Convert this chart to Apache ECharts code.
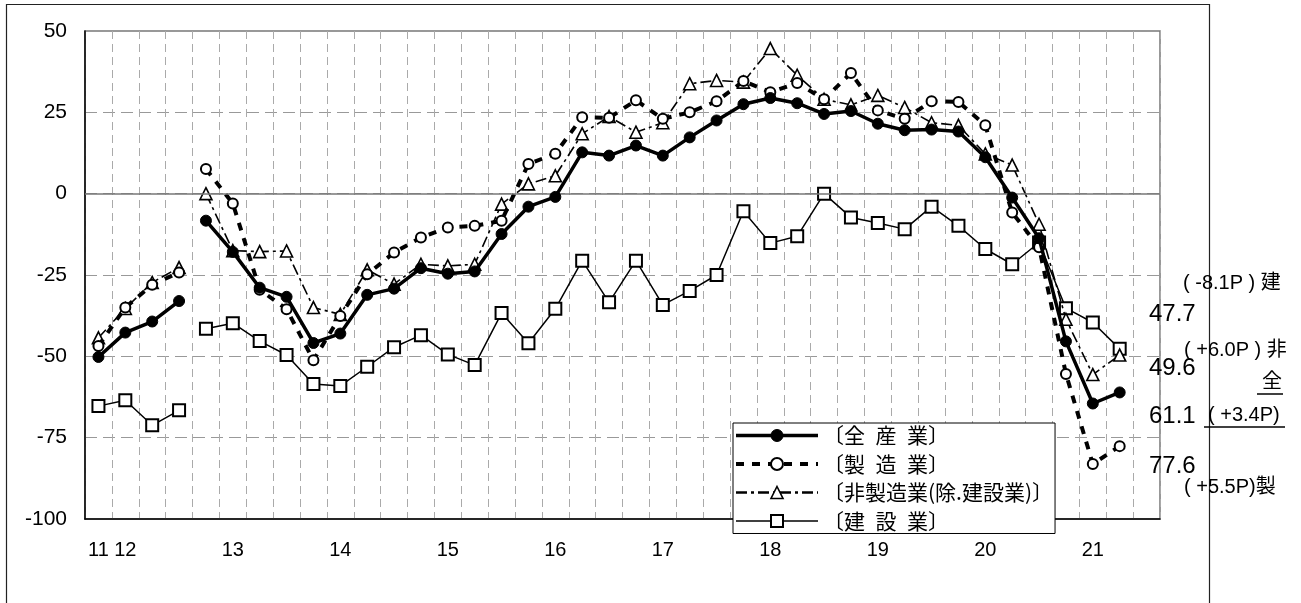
<!DOCTYPE html>
<html>
<head>
<meta charset="utf-8">
<script src="https://cdn.jsdelivr.net/npm/echarts@6/dist/echarts.min.js"></script>
<style>
  html, body { margin: 0; padding: 0; background: #fff; }
  #chart { width: 1301px; height: 603px; }
</style>
</head>
<body>
<div id="chart"></div>
<script>
// Quarterly categories (year label on the first quarter of each year)
const categories = [
  '11', '12', '', '', '',
  '13', '', '', '',
  '14', '', '', '',
  '15', '', '', '',
  '16', '', '', '',
  '17', '', '', '',
  '18', '', '', '',
  '19', '', '', '',
  '20', '', '', '',
  '21', '', ''
];

// Survey basis changes here: the lines are broken between index 3 and 4
const basisBreak = 4;

// DI values by quarter
const allIndustries = [
  -50.2, -42.7, -39.3, -33.0, -8.3, -17.9, -28.9, -31.7, -45.9, -43.0,
  -31.1, -29.2, -22.9, -24.6, -23.9, -12.4, -4.0, -1.0, 12.7, 11.7,
  14.8, 11.7, 17.3, 22.5, 27.5, 29.4, 27.8, 24.5, 25.4, 21.5,
  19.5, 19.7, 19.1, 11.2, -1.2, -13.7, -45.4, -64.5, -61.1
];
const manufacturing = [
  -46.8, -35.0, -28.0, -24.2, 7.6, -3.0, -29.5, -35.5, -51.2, -37.6,
  -24.8, -18.1, -13.5, -10.4, -9.9, -8.3, 9.1, 12.3, 23.5, 23.3,
  28.7, 23.0, 25.0, 28.4, 34.6, 31.2, 34.0, 29.0, 37.1, 25.6,
  23.0, 28.4, 28.2, 21.0, -5.8, -16.5, -55.4, -83.1, -77.6
];
const nonManufacturing = [
  -44.3, -35.3, -27.3, -22.7, 0.0, -17.5, -17.8, -17.6, -35.0, -37.1,
  -23.4, -27.8, -21.7, -22.2, -21.7, -3.2, 3.0, 5.5, 18.4, 23.7,
  18.9, 21.8, 33.8, 34.8, 34.3, 44.6, 36.4, 29.0, 27.3, 30.2,
  26.5, 21.8, 21.0, 12.2, 8.8, -9.4, -38.6, -55.6, -49.6
];
const construction = [
  -65.3, -63.5, -71.2, -66.6, -41.5, -39.8, -45.3, -49.6, -58.5, -59.1,
  -53.2, -47.2, -43.5, -49.4, -52.7, -36.7, -46.0, -35.4, -20.6, -33.4,
  -20.6, -34.2, -29.9, -25.0, -5.4, -15.2, -13.1, 0.0, -7.3, -9.0,
  -10.9, -4.0, -9.9, -17.0, -21.7, -15.0, -35.2, -39.6, -47.7
];

const seriesNames = ['全産業', '製造業', '非製造業', '建設業'];
const legendLabels = [
  '〔全\u2002産\u2002業〕',
  '〔製\u2002造\u2002業〕',
  '〔非製造業(除.建設業)〕',
  '〔建\u2002設\u2002業〕'
];
const yTicks = { min: -100, max: 50, step: 25 };

// keep only the points in [from, to); everything else is left empty
function segment(values, from, to) {
  return values.map((v, i) => (i >= from && i < to ? v : '-'));
}
function last(values) { return values[values.length - 1]; }
function change(values) {
  const d = values[values.length - 1] - values[values.length - 2];
  return (d >= 0 ? '+' : '-') + Math.abs(d).toFixed(1);
}
function level(values) { return Math.abs(last(values)).toFixed(1); }

const styles = [
  { values: allIndustries, z: 5, symbol: 'circle', symbolSize: 11,
    lineStyle: { color: '#000', width: 3.5, type: 'solid' },
    itemStyle: { color: '#000', borderColor: '#000', borderWidth: 1 } },
  { values: manufacturing, z: 4, symbol: 'circle', symbolSize: 10,
    lineStyle: { color: '#000', width: 4, type: [8, 8] },
    itemStyle: { color: '#fff', borderColor: '#000', borderWidth: 2 } },
  { values: nonManufacturing, z: 3, symbol: 'triangle', symbolSize: 12,
    lineStyle: { color: '#000', width: 1.6, type: [11, 4, 3, 4] },
    itemStyle: { color: '#fff', borderColor: '#000', borderWidth: 1.6 } },
  { values: construction, z: 2, symbol: 'rect', symbolSize: 12,
    lineStyle: { color: '#000', width: 1.5, type: 'solid' },
    itemStyle: { color: '#fff', borderColor: '#000', borderWidth: 2 } }
];

const series = [];
styles.forEach((s, k) => {
  [[0, basisBreak], [basisBreak, categories.length]].forEach(([a, b]) => {
    series.push({
      name: seriesNames[k],
      type: 'line',
      data: segment(s.values, a, b),
      z: s.z,
      symbol: s.symbol,
      symbolSize: s.symbolSize,
      showAllSymbol: true,
      connectNulls: false,
      lineStyle: s.lineStyle,
      itemStyle: s.itemStyle,
      emphasis: { disabled: true }
    });
  });
});

// solid zero line
series[series.length - 1].markLine = {
  silent: true,
  symbol: 'none',
  label: { show: false },
  lineStyle: { color: '#777', width: 1.5, type: 'solid' },
  data: [{ yAxis: 0 }]
};

const latin = '"Liberation Sans", Arial, sans-serif';
const mixed = '"Liberation Sans", "Noto Sans CJK JP", sans-serif';

function txt(x, y, text, size, family) {
  return {
    type: 'text', x: x, y: y, z: 20,
    style: { text: text, fontSize: size, fontFamily: family || mixed,
             fill: '#000', verticalAlign: 'middle', align: 'left' }
  };
}
function rule(x1, x2, y, w) {
  return { type: 'line', z: 20,
           shape: { x1: x1, y1: y, x2: x2, y2: y },
           style: { stroke: '#000', lineWidth: w || 1.5 } };
}

const chart = echarts.init(document.getElementById('chart'), null, { renderer: 'canvas' });
chart.setOption({
  animation: false,
  backgroundColor: '#fff',
  grid: {
    left: 85, right: 141, top: 31, bottom: 84,
    show: true, borderColor: '#777', borderWidth: 1.5,
    containLabel: false, outerBoundsMode: 'none'
  },
  xAxis: {
    type: 'category',
    data: categories,
    boundaryGap: true,
    axisLine: { onZero: false, lineStyle: { color: '#000', width: 1.5 } },
    axisTick: { show: false },
    axisLabel: { interval: 0, margin: 21, fontSize: 20, fontFamily: latin, color: '#000' },
    splitLine: { show: true, interval: 0, lineStyle: { color: '#aaa', width: 1, type: [8, 5] } }
  },
  yAxis: {
    type: 'value',
    min: yTicks.min, max: yTicks.max, interval: yTicks.step,
    axisLine: { show: true, lineStyle: { color: '#000', width: 1.5 } },
    axisTick: { show: false },
    axisLabel: { margin: 18, fontSize: 21, fontFamily: latin, color: '#000' },
    splitLine: { show: true, lineStyle: { color: '#999', width: 1, type: [12, 6] } }
  },
  legend: {
    data: seriesNames.map((n, k) => ({
      name: n,
      lineStyle: { color: '#000', width: k === 2 ? 2.5 : styles[k].lineStyle.width, type: styles[k].lineStyle.type },
      itemStyle: styles[k].itemStyle
    })),
    orient: 'vertical',
    left: 733, top: 423,
    itemWidth: 82, itemHeight: 15, itemGap: 7.5, itemTextGap: -14,
    padding: [2, 2, 2, 1],
    backgroundColor: '#fff', borderColor: '#000', borderWidth: 1, borderRadius: 0,
    selectedMode: false,
    textStyle: { fontFamily: '"Noto Sans CJK JP", sans-serif', fontSize: 21, color: '#000' },
    formatter: name => legendLabels[seriesNames.indexOf(name)]
  },
  graphic: [
    { type: 'rect', z: -1, silent: true,
      shape: { x: 6.5, y: 4.5, width: 1203, height: 700 },
      style: { fill: 'none', stroke: '#222', lineWidth: 1.2 } },
    txt(1183, 283, '( ' + change(construction) + 'P ) 建', 20),
    txt(1149, 314, level(construction), 24, latin),
    txt(1184, 350, '( ' + change(nonManufacturing) + 'P ) 非', 20),
    txt(1149, 368, level(nonManufacturing), 24, latin),
    txt(1262, 382, '全', 20),
    rule(1257, 1283, 394),
    txt(1149, 416, level(allIndustries), 24, latin),
    txt(1208, 415, '( ' + change(allIndustries) + 'P)', 20),
    rule(1204, 1285, 427),
    txt(1149, 466, level(manufacturing), 24, latin),
    txt(1184, 487, '( ' + change(manufacturing) + 'P)製', 20)
  ],
  series: series
});
</script>
</body>
</html>
